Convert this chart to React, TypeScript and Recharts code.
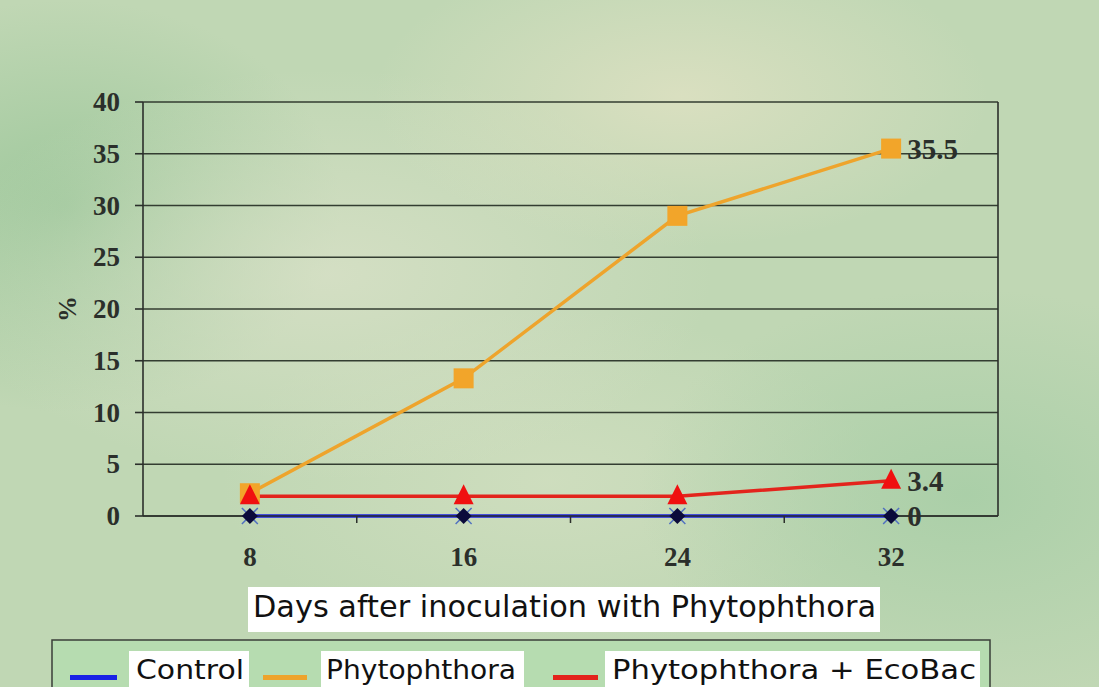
import React from 'react';
import { LineChart, Line, XAxis, YAxis, CartesianGrid, LabelList } from 'recharts';

const days = [8, 16, 24, 32];
const control = [0, 0, 0, 0];
const phytophthora = [2.2, 13.3, 29.0, 35.5];
const ecoBac = [1.9, 1.9, 1.9, 3.4];
const yTicks = [0, 5, 10, 15, 20, 25, 30, 35, 40];
const xTicks = [8, 12, 16, 20, 24, 28, 32];
const xTitle = 'Days after inoculation with Phytophthora';

const data = days.map((d, i) => ({ day: d, control: control[i], phyto: phytophthora[i], eco: ecoBac[i] }));

const INK = '#2b2f2b';
const serif = '"Liberation Serif", "Times New Roman", serif';
const sans = '"DejaVu Sans", sans-serif';

const series = [
  { key: 'control', name: 'Control', color: '#1a22e6' },
  { key: 'phyto', name: 'Phytophthora', color: '#eea42c' },
  { key: 'eco', name: 'Phytophthora + EcoBac', color: '#e3241c' },
];

// legend layout in page pixels: swatch line x-range, white box x-range, text x-range
const legendPos = [
  { line: [70, 117], box: [129, 249], text: [136, 244] },
  { line: [263, 307], box: [321, 524], text: [326, 516] },
  { line: [553, 598], box: [605, 980], text: [612, 976] },
];

function XTick({ x, y, payload }: any) {
  const v = payload.value;
  if (days.includes(v)) {
    return (
      <text x={x} y={y + 41} textAnchor="middle" dominantBaseline="central"
        fontFamily={serif} fontWeight="bold" fontSize={27} fill={INK}>{v}</text>
    );
  }
  return <line x1={x} x2={x} y1={y} y2={y + 7} stroke={INK} strokeWidth={1.5} />;
}

function YTick({ x, y, payload }: any) {
  return (
    <text x={x} y={y} textAnchor="end" dominantBaseline="central"
      fontFamily={serif} fontWeight="bold" fontSize={27} fill={INK}>{payload.value}</text>
  );
}

function SquareDot({ cx, cy }: any) {
  return <rect x={cx - 10} y={cy - 10} width={20} height={20} fill="#f2a52a" />;
}
function TriangleDot({ cx, cy }: any) {
  return <polygon points={`${cx},${cy - 12} ${cx - 10},${cy + 8} ${cx + 10},${cy + 8}`} fill="#f01010" />;
}
function DiamondDot({ cx, cy }: any) {
  return (
    <g>
      <line x1={cx - 8} y1={cy - 8} x2={cx + 8} y2={cy + 8} stroke="#5070c0" strokeWidth={1.5} />
      <line x1={cx - 8} y1={cy + 8} x2={cx + 8} y2={cy - 8} stroke="#5070c0" strokeWidth={1.5} />
      <polygon points={`${cx},${cy - 8} ${cx + 8},${cy} ${cx},${cy + 8} ${cx - 8},${cy}`} fill="#0b0b3a" />
    </g>
  );
}

function EndLabel(props: any) {
  const { x, y, index, value } = props;
  if (index !== days.length - 1) return null;
  return (
    <text x={x + 16} y={y} dominantBaseline="central" fontFamily={serif} fontWeight="bold"
      fontSize={29} fill={INK}>{value}</text>
  );
}

function PercentLabel({ viewBox }: any) {
  const cx = viewBox.x - 16;
  const cy = viewBox.y + viewBox.height / 2;
  return (
    <text x={cx} y={cy} transform={`rotate(-90 ${cx} ${cy})`} textAnchor="middle" dominantBaseline="central"
      fontFamily={serif} fontWeight="bold" fontSize={26} fill={INK}>%</text>
  );
}

const bg =
  'radial-gradient(ellipse 28% 22% at 62% 14%, rgba(226,226,196,0.75), transparent),' +
  'radial-gradient(ellipse 35% 30% at 30% 40%, rgba(220,226,202,0.7), transparent),' +
  'radial-gradient(ellipse 25% 30% at 6% 30%, rgba(150,196,150,0.8), transparent),' +
  'radial-gradient(ellipse 30% 30% at 88% 72%, rgba(165,205,165,0.8), transparent),' +
  'radial-gradient(ellipse 30% 25% at 50% 70%, rgba(212,224,194,0.7), transparent),' +
  '#c0d7b4';

export default function App() {
  return (
    <div style={{ position: 'absolute', left: 0, top: 0, width: 1099, height: 687, background: bg, overflow: 'hidden' }}>
      <LineChart width={1099} height={687} data={data} margin={{ top: 102, right: 100, bottom: 111, left: 83 }}>
        <CartesianGrid vertical={false} stroke="#333d31" strokeWidth={1.6} />
        <XAxis dataKey="day" type="number" domain={[4, 36]} ticks={xTicks} interval={0}
          tick={<XTick />} tickLine={false} tickSize={0} tickMargin={0} height={60}
          axisLine={{ stroke: INK, strokeWidth: 1.6 }} />
        <YAxis domain={[0, 40]} ticks={yTicks} interval={0} width={60} tickSize={8} tickMargin={15}
          tick={<YTick />} tickLine={{ stroke: INK, strokeWidth: 1.6 }} axisLine={{ stroke: INK, strokeWidth: 1.6 }}
          label={<PercentLabel />} />
        <YAxis yAxisId="r" orientation="right" domain={[0, 40]} width={1} tick={false} tickLine={false}
          axisLine={{ stroke: INK, strokeWidth: 1.6 }} />
        <Line dataKey="control" stroke={series[0].color} strokeWidth={3.5} dot={<DiamondDot />} isAnimationActive={false}>
          <LabelList dataKey="control" content={<EndLabel />} />
        </Line>
        <Line dataKey="phyto" stroke={series[1].color} strokeWidth={3.5} dot={<SquareDot />} isAnimationActive={false}>
          <LabelList dataKey="phyto" content={<EndLabel />} />
        </Line>
        <Line dataKey="eco" stroke={series[2].color} strokeWidth={3.5} dot={<TriangleDot />} isAnimationActive={false}>
          <LabelList dataKey="eco" content={<EndLabel />} />
        </Line>
      </LineChart>

      <svg width={1099} height={687} style={{ position: 'absolute', left: 0, top: 0 }}>
        <rect x={248} y={587} width={632} height={45} fill="#fff" />
        <text x={253} y={617} fontFamily={sans} fontSize={30} fill="#111"
          textLength={623} lengthAdjust="spacingAndGlyphs">{xTitle}</text>

        <rect x={52} y={640} width={938} height={60} fill="#b6dcb0" stroke="#3a3f38" strokeWidth={1.5} />
        {legendPos.map((p, i) => (
          <g key={series[i].key}>
            <rect x={p.line[0]} y={675} width={p.line[1] - p.line[0]} height={5} fill={series[i].color} />
            <rect x={p.box[0]} y={651} width={p.box[1] - p.box[0]} height={40} fill="#fff" />
            <text x={p.text[0]} y={679} fontFamily={sans} fontSize={27} fill="#111"
              textLength={p.text[1] - p.text[0]} lengthAdjust="spacingAndGlyphs">{series[i].name}</text>
          </g>
        ))}
      </svg>
    </div>
  );
}
